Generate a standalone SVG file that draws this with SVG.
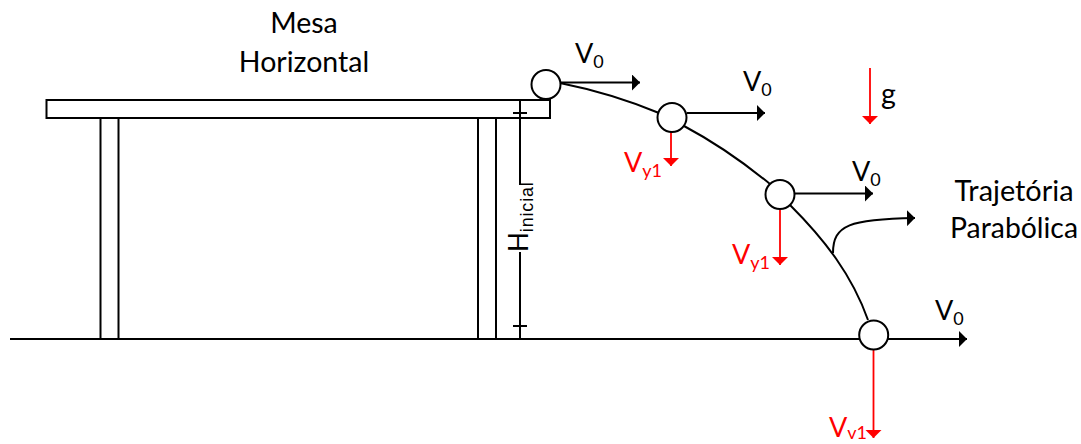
<svg xmlns="http://www.w3.org/2000/svg" width="1081" height="444" viewBox="0 0 1081 444">
<style>
.l{fill:none;stroke:#000;stroke-width:2}
.r{fill:none;stroke:#f00;stroke-width:1.8}
.c{fill:#fff;stroke:#000;stroke-width:2}
text{font-family:Lato,"Open Sans",sans-serif;font-size:27px;fill:#000}
.b{font-size:28.500px}
.s{font-size:18px}
.h{font-size:26px}
.red{fill:#f00}
.m{text-anchor:middle}
</style>
<defs>
<marker id="a" markerUnits="userSpaceOnUse" markerWidth="9" markerHeight="16" refX="8" refY="8" orient="auto"><path d="M0 0L8 8L0 16Z" fill="#000"/></marker>
<marker id="b" markerUnits="userSpaceOnUse" markerWidth="9" markerHeight="17" refX="8" refY="8.5" orient="auto"><path d="M0 0.5L8 8.5L0 16.5Z" fill="#f00"/></marker>
</defs>
<g id="mesa">
<rect class="l" x="46.5" y="100" width="503.500" height="18"/>
<rect class="l" x="100.500" y="118" width="18" height="221"/>
<rect class="l" x="478" y="118" width="18" height="221"/>
<text class="m b" x="304" y="33">Mesa</text>
<text class="m b" x="304" y="72">Horizontal</text>
</g>
<g id="connectors">
<path class="l" d="M10 339H873"/>
<path class="l" d="M520 100V185M520 252V339M513 113H527M513 326H527"/>
<path class="l" d="M560 83C595 90 630 101 659 113M684 126C716 143 743 162 770 184M790 205C825 240 852 275 868 320"/>
<path class="l" d="M833 253C833 225 850 219 915 218" marker-end="url(#a)"/>
<path class="l" d="M561 82.500H640" marker-end="url(#a)"/>
<path class="l" d="M687 113H765" marker-end="url(#a)"/>
<path class="l" d="M795 193.500H873" marker-end="url(#a)"/>
<path class="l" d="M888 339H967" marker-end="url(#a)"/>
<path class="r" d="M671 132V166" marker-end="url(#b)"/>
<path class="r" d="M780 210V265" marker-end="url(#b)"/>
<path class="r" d="M873.500 350V438" marker-end="url(#b)"/>
<path class="r" d="M870 68V124" marker-end="url(#b)"/>
</g>
<g id="h"><text class="h" transform="translate(528,252) rotate(-90)">H<tspan class="s" dy="5" style="font-family:'Liberation Sans',sans-serif" textLength="50">inicial</tspan></text></g>
<g id="n1"><circle class="c" cx="546" cy="84.500" r="14.500"/><text x="575" y="63">V<tspan class="s" dy="5">0</tspan></text></g>
<g id="n2"><circle class="c" cx="672" cy="117.500" r="14.500"/><text x="743" y="91">V<tspan class="s" dy="5">0</tspan></text><text class="red" x="624" y="172">V<tspan class="s red" dy="5">y1</tspan></text></g>
<g id="n3"><circle class="c" cx="780" cy="194.500" r="14.500"/><text x="852" y="181">V<tspan class="s" dy="5">0</tspan></text><text class="red" x="732" y="264">V<tspan class="s red" dy="5">y1</tspan></text></g>
<g id="n4"><circle class="c" cx="873.700" cy="335" r="14.500"/><text x="935" y="320">V<tspan class="s" dy="5">0</tspan></text><text class="red" x="829" y="437">V<tspan class="s red" dy="2">v1</tspan></text></g>
<g id="lab"><text class="b" x="881" y="104">g</text><text class="m b" x="1014" y="201" textLength="119" lengthAdjust="spacingAndGlyphs">Trajetória</text><text class="m b" x="1014" y="238" textLength="128" lengthAdjust="spacingAndGlyphs">Parabólica</text></g>
</svg>
